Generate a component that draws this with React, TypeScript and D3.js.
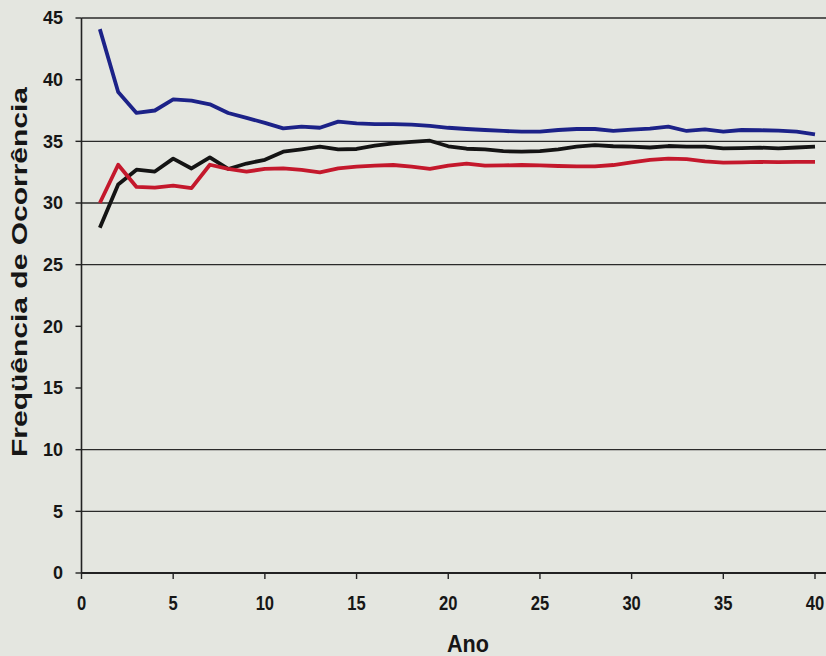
import React from "react";
import * as d3 from "d3";

const years = d3.range(1, 41);
const blueSeries = [44.1, 39.0, 37.3, 37.5, 38.4, 38.3, 38.0, 37.3, 36.9, 36.5,
  36.05, 36.2, 36.1, 36.6, 36.45, 36.4, 36.4, 36.35, 36.25, 36.1,
  36.0, 35.92, 35.84, 35.78, 35.78, 35.92, 36.0, 36.0, 35.84, 35.95,
  36.03, 36.2, 35.84, 35.97, 35.78, 35.92, 35.9, 35.87, 35.78, 35.57];
const blackSeries = [28.0, 31.5, 32.7, 32.55, 33.6, 32.8, 33.7, 32.76, 33.2, 33.5,
  34.16, 34.35, 34.57, 34.35, 34.38, 34.65, 34.84, 34.95, 35.05, 34.6,
  34.4, 34.35, 34.2, 34.16, 34.2, 34.35, 34.57, 34.7, 34.6, 34.57,
  34.5, 34.62, 34.57, 34.57, 34.43, 34.45, 34.49, 34.43, 34.5, 34.57];
const redSeries = [30.0, 33.1, 31.3, 31.25, 31.4, 31.2, 33.1, 32.76, 32.55, 32.76,
  32.8, 32.68, 32.49, 32.8, 32.95, 33.03, 33.08, 32.95, 32.76, 33.03,
  33.2, 33.03, 33.05, 33.08, 33.05, 33.0, 32.97, 32.97, 33.08, 33.3,
  33.5, 33.6, 33.55, 33.38, 33.27, 33.29, 33.33, 33.31, 33.33, 33.33];
const yTicks = [0, 5, 10, 15, 20, 25, 30, 35, 40, 45];
const xTicks = [0, 5, 10, 15, 20, 25, 30, 35, 40];
const gridValues = [45, 35, 30, 25, 10, 5];

const W = 826, H = 656;
const x = d3.scaleLinear().domain([0, 40]).range([81.5, 815]);
const y = d3.scaleLinear().domain([0, 45]).range([573, 18]);

const series = [
  { values: blueSeries, color: "#1c2288" },
  { values: blackSeries, color: "#141414" },
  { values: redSeries, color: "#c4182c" },
];

const line = d3.line<number>().x((_, i) => x(years[i])).y((v) => y(v));

export default function App() {
  const font = "'Liberation Sans', Arial, sans-serif";
  return (
    <svg width={W} height={H} style={{ position: "absolute", left: 0, top: 0, background: "#e4e6e0" }}>
      <rect x={0} y={0} width={W} height={H} fill="#e4e6e0" />
      {gridValues.map((g) => (
        <line key={g} x1={x(0)} x2={W} y1={y(g)} y2={y(g)} stroke="#2a2a2a" strokeWidth={1.4} />
      ))}
      <line x1={x(0)} x2={W} y1={y(0)} y2={y(0)} stroke="#222" strokeWidth={2.2} />
      <line x1={x(0)} x2={x(0)} y1={y(45)} y2={y(0)} stroke="#222" strokeWidth={1.6} />
      {yTicks.map((t) => (
        <g key={t}>
          <line x1={x(0) - 6} x2={x(0)} y1={y(t)} y2={y(t)} stroke="#222" strokeWidth={1.4} />
          <text x={63} y={y(t)} dy="0.36em" textAnchor="end" fontFamily={font} fontWeight="bold" fontSize={18} fill="#161616">
            {t}
          </text>
        </g>
      ))}
      {xTicks.map((t) => (
        <g key={t}>
          <line x1={x(t)} x2={x(t)} y1={y(0)} y2={y(0) + 6} stroke="#222" strokeWidth={1.4} />
          <text x={x(t)} y={610} textAnchor="middle" fontFamily={font} fontWeight="bold" fontSize={19.5} fill="#161616"
            transform={`translate(${x(t)},0) scale(0.85,1) translate(${-x(t)},0)`}>
            {t}
          </text>
        </g>
      ))}
      <text x={468} y={652} textAnchor="middle" fontFamily={font} fontWeight="bold" fontSize={23.5} fill="#161616"
        transform="translate(468,0) scale(0.92,1) translate(-468,0)">
        Ano
      </text>
      <text transform="translate(27,272) rotate(-90)" textAnchor="middle" fontFamily={font} fontWeight="bold" fontSize={22}
        fill="#161616" textLength={370} lengthAdjust="spacingAndGlyphs">
        Freqüência de Ocorrência
      </text>
      {series.map((s, i) => (
        <path key={i} d={line(s.values) || ""} fill="none" stroke={s.color} strokeWidth={3.8} strokeLinejoin="round" />
      ))}
    </svg>
  );
}
